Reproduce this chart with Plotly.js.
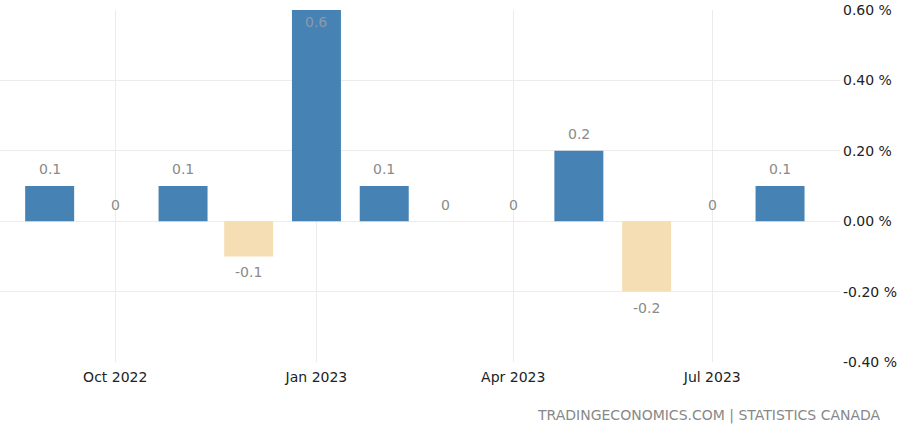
<!DOCTYPE html>
<html>
<head>
<meta charset="utf-8">
<script src="https://cdn.plot.ly/plotly-3.0.1.min.js"></script>
<style>
  html, body { margin: 0; padding: 0; background: #ffffff; }
  #chart { width: 900px; height: 430px; }
</style>
</head>
<body>
<div id="chart"></div>
<script>
// Data (monthly % change)
const months = ['2022-09-01','2022-10-01','2022-11-01','2022-12-01','2023-01-01','2023-02-01',
                '2023-03-01','2023-04-01','2023-05-01','2023-06-01','2023-07-01','2023-08-01'];
const values = [0.1, 0, 0.1, -0.1, 0.6, 0.1, 0, 0, 0.2, -0.2, 0, 0.1];
const tickDates = ['2022-10-01','2023-01-01','2023-04-01','2023-07-01'];
const tickLabels = ['Oct 2022','Jan 2023','Apr 2023','Jul 2023'];
const yTicks = [-0.4, -0.2, 0, 0.2, 0.4, 0.6];
const yTickLabels = ['-0.40 %','-0.20 %','0.00 %','0.20 %','0.40 %','0.60 %'];
const sourceText = 'TRADINGECONOMICS.COM | STATISTICS CANADA';

const posColor = '#4682B4';
const negColor = '#F5DEB3';
const yMax = 0.6;
const DAY = 86400000;

const barTrace = {
  type: 'bar',
  x: months,
  y: values,
  width: months.map(() => 22.4 * DAY),
  marker: { color: values.map(v => v < 0 ? negColor : posColor), line: { width: 0 } },
  hoverinfo: 'x+y'
};

const labelAnns = months.map((m, i) => {
  const v = values[i];
  let shift;
  if (v >= yMax) shift = -12;
  else if (v > 0) shift = 17;
  else if (v === 0) shift = 16;
  else shift = -16;
  return {
    x: m, y: v, xref: 'x', yref: 'y',
    text: String(v), showarrow: false,
    yshift: shift, yanchor: 'middle', xanchor: 'center',
    font: { family: 'DejaVu Sans', size: 14, color: v >= yMax ? '#8c9aa8' : '#8a8a8a' }
  };
});

const layout = {
  width: 900, height: 430,
  margin: { l: 0, r: 60, t: 10, b: 68 },
  paper_bgcolor: '#ffffff',
  plot_bgcolor: '#ffffff',
  showlegend: false,
  xaxis: {
    type: 'date',
    range: ['2022-08-09 07:00', '2023-08-28 10:00'],
    tickvals: tickDates,
    ticktext: tickLabels,
    showgrid: true,
    gridcolor: '#ececec',
    gridwidth: 1,
    zeroline: false,
    showline: false,
    ticks: '',
    ticklabelstandoff: 5,
    tickfont: { family: 'DejaVu Sans', size: 14, color: '#222222' }
  },
  yaxis: {
    side: 'right',
    range: [-0.4, 0.6],
    tickvals: yTicks,
    ticktext: yTickLabels,
    showgrid: true,
    gridcolor: '#ececec',
    gridwidth: 1,
    zeroline: false,
    showline: false,
    ticks: '',
    ticklabelstandoff: 2,
    tickfont: { family: 'DejaVu Sans', size: 14, color: '#222222' }
  },
  annotations: labelAnns.concat([{
    xref: 'paper', yref: 'paper',
    x: 883 / 840, y: (362 - 415) / 352,
    xanchor: 'right', yanchor: 'middle',
    text: sourceText, showarrow: false,
    font: { family: 'DejaVu Sans', size: 14, color: '#888888' }
  }])
};

Plotly.newPlot('chart', [barTrace], layout, { displayModeBar: false, staticPlot: true });
</script>
</body>
</html>
